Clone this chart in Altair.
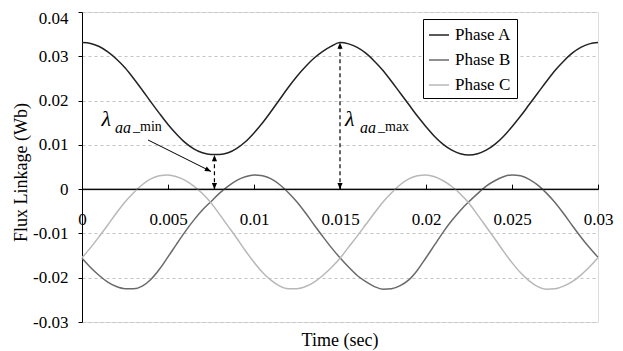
import altair as alt
import pandas as pd

FONT = "'Liberation Serif', 'Times New Roman', Times, serif"

time_s = [0.0, 0.0005, 0.001, 0.0015, 0.002, 0.0025, 0.003, 0.0035, 0.004, 0.0045,
          0.005, 0.0055, 0.006, 0.0065, 0.007, 0.0075, 0.008, 0.0085, 0.009, 0.0095,
          0.01, 0.0105, 0.011, 0.0115, 0.012, 0.0125, 0.013, 0.0135, 0.014, 0.0145,
          0.015, 0.0155, 0.016, 0.0165, 0.017, 0.0175, 0.018, 0.0185, 0.019, 0.0195,
          0.02, 0.0205, 0.021, 0.0215, 0.022, 0.0225, 0.023, 0.0235, 0.024, 0.0245,
          0.025, 0.0255, 0.026, 0.0265, 0.027, 0.0275, 0.028, 0.0285, 0.029, 0.0295,
          0.03]

phase_a = [0.0331, 0.0329, 0.0322, 0.0310, 0.0294, 0.0274, 0.0250, 0.0224, 0.0197, 0.0171,
           0.0146, 0.0124, 0.0105, 0.0091, 0.0082, 0.0078, 0.0078, 0.0082, 0.0092, 0.0107,
           0.0127, 0.0150, 0.0176, 0.0203, 0.0230, 0.0255, 0.0277, 0.0296, 0.0311, 0.0323,
           0.0331,
           0.0328, 0.0320, 0.0307, 0.0289, 0.0268, 0.0243, 0.0217, 0.0191, 0.0165, 0.0141,
           0.0119, 0.0101, 0.0088, 0.0080, 0.0077, 0.0080, 0.0088, 0.0101, 0.0119, 0.0141,
           0.0165, 0.0191, 0.0217, 0.0243, 0.0268, 0.0289, 0.0307, 0.0320, 0.0328, 0.0331]

phase_b = [-0.0156, -0.0177, -0.0195, -0.0210, -0.0220, -0.0225, -0.0225, -0.0219, -0.0204, -0.0181,
           -0.0153, -0.0124, -0.0096, -0.0070, -0.0047, -0.0028, -0.0009, 0.0007, 0.0020, 0.0028,
           0.0032, 0.0030, 0.0023, 0.0010, -0.0008, -0.0029, -0.0054, -0.0081, -0.0107, -0.0132,
           -0.0155,
           -0.0176, -0.0195, -0.0209, -0.0220, -0.0226, -0.0225, -0.0218, -0.0205, -0.0183, -0.0155,
           -0.0126, -0.0097, -0.0071, -0.0048, -0.0028, -0.0010, 0.0007, 0.0019, 0.0028, 0.0032,
           0.0030, 0.0022, 0.0009, -0.0009, -0.0030, -0.0055, -0.0082, -0.0108, -0.0132, -0.0154]

phase_c = [-0.0155, -0.0132, -0.0107, -0.0081, -0.0054, -0.0029, -0.0008, 0.0010, 0.0023, 0.0030,
           0.0032, 0.0028, 0.0020, 0.0007, -0.0010, -0.0031, -0.0057, -0.0084, -0.0111, -0.0139,
           -0.0165, -0.0188, -0.0206, -0.0219, -0.0225, -0.0225, -0.0220, -0.0210, -0.0195, -0.0177,
           -0.0156,
           -0.0131, -0.0106, -0.0080, -0.0054, -0.0029, -0.0008, 0.0010, 0.0023, 0.0030, 0.0032,
           0.0028, 0.0019, 0.0006, -0.0011, -0.0032, -0.0058, -0.0085, -0.0112, -0.0140, -0.0166,
           -0.0189, -0.0207, -0.0220, -0.0226, -0.0225, -0.0219, -0.0209, -0.0194, -0.0176, -0.0155]

series_names = ["Phase A", "Phase B", "Phase C"]
series_colors = ["#222222", "#6a6a6a", "#b8b8b8"]

x_ticks = [0, 0.005, 0.01, 0.015, 0.02, 0.025, 0.03]
y_ticks = [-0.03, -0.02, -0.01, 0, 0.01, 0.02, 0.03, 0.04]

# annotation data
dash_t = [0.0077, 0.015]
dash_v0 = [0.0, 0.0]
dash_v1 = [0.0077, 0.0331]

diag_t0 = [0.00384]
diag_v0 = [0.0111]
diag_t1 = [0.0075]
diag_v1 = [0.0040]
diag_angle = [116.5]

lam_t = [0.00114, 0.01529]
lam_v = [0.01422, 0.01422]
sub_t = [0.00192, 0.01616]
sub_v = [0.01264, 0.01264]
suf_t = [0.00297, 0.01721]
suf_v = [0.01309, 0.01309]
suf_text = ["_min", "_max"]

wide = pd.DataFrame({"t": time_s, "Phase A": phase_a, "Phase B": phase_b, "Phase C": phase_c})
df = wide.melt(id_vars="t", var_name="series", value_name="v")

PLOT_TOP = 4
PLOT_H = 310
ZERO_PX = PLOT_H * 4 / 7

xs = alt.Scale(domain=[0, 0.03], nice=False, zero=False)
ys = alt.Scale(domain=[-0.03, 0.04], nice=False, zero=False)

x_label_expr = "datum.value == 0 ? '0' : format(datum.value, '.3~f')"
y_label_expr = "datum.value == 0 ? '0' : (datum.value < 0 ? '-' : '') + format(abs(datum.value), '.2f')"

lines = alt.Chart(df).mark_line(strokeWidth=1.5, interpolate="monotone").encode(
    x=alt.X("t:Q", scale=xs, axis=alt.Axis(
        values=x_ticks, orient="bottom", offset=-(PLOT_H - ZERO_PX), domain=False, ticks=False,
        tickSize=0, grid=False, labelPadding=22, labelExpr=x_label_expr, title=None,
        labelFont=FONT, labelFontSize=17, labelColor="black", labelOverlap=False, labelFlush=False)),
    y=alt.Y("v:Q", scale=ys, axis=alt.Axis(
        values=y_ticks, grid=True, gridDash=[3, 3], gridColor="#c4c4c4", gridWidth=1,
        domainColor="black", domainWidth=1, tickColor="black", tickSize=4, labelPadding=10,
        labelExpr=y_label_expr, labelFont=FONT, labelFontSize=17, labelColor="black",
        labelOverlap=False, labelFlush=False,
        labelOffset={"condition": {"test": "datum.value > 0.035", "value": 6}, "value": 0},
        title="Flux Linkage (Wb)", titleFont=FONT, titleFontSize=18, titleFontWeight="normal",
        titleColor="black", titleX=-61, titleY=160, titleAngle=270, titleAlign="center",
        titleBaseline="middle")),
    color=alt.Color("series:N", scale=alt.Scale(domain=series_names, range=series_colors),
                    legend=alt.Legend(title=None, orient="none", legendX=341, legendY=7,
                                      fillColor="white", strokeColor="black", padding=5,
                                      symbolType="stroke", symbolSize=400, symbolStrokeWidth=1.5,
                                      labelFont=FONT, labelFontSize=17, labelColor="black",
                                      rowPadding=6, labelOffset=5)),
)

zero_df = pd.DataFrame({"t0": [0.0], "t1": [0.03], "v": [0.0]})
zero_line = alt.Chart(zero_df).mark_rule(color="black", strokeWidth=1).encode(
    x=alt.X("t0:Q", scale=xs, axis=alt.Axis(
        values=x_ticks, orient="top", offset=-ZERO_PX, domain=True, domainColor="black",
        ticks=True, tickColor="black", tickSize=5, labels=False, grid=False, title=None)),
    x2="t1:Q",
    y=alt.Y("v:Q", scale=ys, axis=None),
)

dash_df = pd.DataFrame({"t": dash_t, "v0": dash_v0, "v1": dash_v1})
dash_rules = alt.Chart(dash_df).mark_rule(color="black", strokeWidth=1.2, strokeDash=[4, 3]).encode(
    x=alt.X("t:Q", scale=xs, axis=None),
    y=alt.Y("v0:Q", scale=ys, axis=None),
    y2="v1:Q",
)
UP = "M0,0L-0.42,1L0.42,1Z"
DOWN = "M0,0L-0.42,-1L0.42,-1Z"
heads_up = alt.Chart(dash_df).mark_point(shape=UP, size=150, filled=True, color="black", opacity=1).encode(
    x=alt.X("t:Q", scale=xs, axis=None),
    y=alt.Y("v1:Q", scale=ys, axis=None),
)
heads_down = alt.Chart(dash_df).mark_point(shape=DOWN, size=150, filled=True, color="black", opacity=1).encode(
    x=alt.X("t:Q", scale=xs, axis=None),
    y=alt.Y("v0:Q", scale=ys, axis=None),
)

diag_df = pd.DataFrame({"t0": diag_t0, "v0": diag_v0, "t1": diag_t1, "v1": diag_v1, "ang": diag_angle})
diag_rule = alt.Chart(diag_df).mark_rule(color="black", strokeWidth=1).encode(
    x=alt.X("t0:Q", scale=xs, axis=None), y=alt.Y("v0:Q", scale=ys, axis=None),
    x2="t1:Q", y2="v1:Q",
)
diag_head = alt.Chart(diag_df).mark_point(shape=UP, size=150, filled=True, color="black", opacity=1).encode(
    x=alt.X("t1:Q", scale=xs, axis=None), y=alt.Y("v1:Q", scale=ys, axis=None),
    angle=alt.Angle("ang:Q", scale=None),
)

lam_df = pd.DataFrame({"t": lam_t, "v": lam_v, "txt": ["λ", "λ"]})
sub_df = pd.DataFrame({"t": sub_t, "v": sub_v, "txt": ["aa", "aa"]})
suf_df = pd.DataFrame({"t": suf_t, "v": suf_v, "txt": suf_text})

lam_text = alt.Chart(lam_df).mark_text(font=FONT, fontSize=22, fontStyle="italic", align="left",
                                        baseline="alphabetic", color="black").encode(
    x=alt.X("t:Q", scale=xs, axis=None), y=alt.Y("v:Q", scale=ys, axis=None), text="txt:N")
sub_text = alt.Chart(sub_df).mark_text(font=FONT, fontSize=16, fontStyle="italic", align="left",
                                        baseline="alphabetic", color="black").encode(
    x=alt.X("t:Q", scale=xs, axis=None), y=alt.Y("v:Q", scale=ys, axis=None), text="txt:N")
suf_text_l = alt.Chart(suf_df).mark_text(font=FONT, fontSize=14, align="left",
                                          baseline="alphabetic", color="black").encode(
    x=alt.X("t:Q", scale=xs, axis=None), y=alt.Y("v:Q", scale=ys, axis=None), text="txt:N")

chart = alt.layer(
    lines, zero_line, dash_rules, heads_up, heads_down, diag_rule, diag_head,
    lam_text, sub_text, suf_text_l
).resolve_axis(x="independent", y="independent").properties(
    width=516, height=PLOT_H,
    padding={"left": 74, "top": PLOT_TOP, "right": 17, "bottom": 32},
    autosize=alt.AutoSizeParams(type="none"),
    title=alt.TitleParams("Time (sec)", orient="bottom", anchor="middle", frame="group",
                          font=FONT, fontSize=18, fontWeight="normal", color="black", offset=2),
).configure_view(stroke="#aaaaaa", strokeWidth=1).configure(font=FONT, background="white")

chart.save("out.html", embed_options={"renderer": "svg", "actions": False})
